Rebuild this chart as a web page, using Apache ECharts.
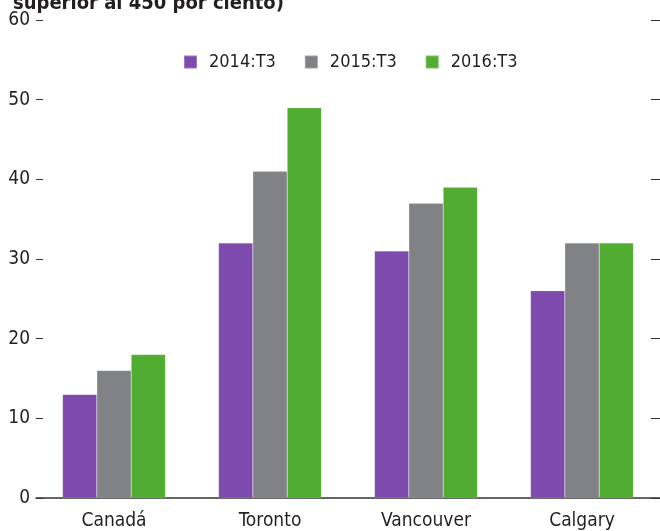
<!DOCTYPE html>
<html>
<head>
<meta charset="utf-8">
<script src="https://cdn.jsdelivr.net/npm/echarts@6/dist/echarts.min.js"></script>
<style>
  html, body { margin: 0; padding: 0; background: #fff; }
  #chart { width: 660px; height: 531px; }
</style>
</head>
<body>
<div id="chart"></div>
<script>
  // data
  const categories = ['Canadá', 'Toronto', 'Vancouver', 'Calgary'];
  const seriesNames = ['2014:T3', '2015:T3', '2016:T3'];
  const values2014 = [13, 32, 31, 26];
  const values2015 = [16, 41, 37, 32];
  const values2016 = [18, 49, 39, 32];
  const colors = ['#7c4bad', '#818285', '#50ad32'];

  const font = "'Liberation Sans Narrow', 'DejaVu Sans Condensed', sans-serif";
  const ink = '#231f20';

  const chart = echarts.init(document.getElementById('chart'));

  const series = [values2014, values2015, values2016].map((data, i) => ({
    name: seriesNames[i],
    type: 'bar',
    data: data,
    barGap: '0%',
    barCategoryGap: '34%',
    itemStyle: {
      color: colors[i],
      borderColor: 'rgba(255,255,255,0.25)',
      borderWidth: 0.5
    },
    animation: false
  }));

  chart.setOption({
    title: {
      text: 'superior al 450 por ciento)',
      left: 8,
      top: -11,
      textStyle: { fontFamily: font, fontSize: 20, fontWeight: 'bold', color: ink }
    },
    legend: {
      data: seriesNames,
      left: 183,
      top: 53,
      padding: 0,
      itemWidth: 13,
      itemHeight: 13,
      itemGap: 28,
      icon: 'rect',
      textStyle: { fontFamily: font, fontSize: 18, color: ink, padding: [0, 0, 0, 7] }
    },
    grid: {
      left: 36,
      right: -4,
      top: 20,
      bottom: 32
    },
    xAxis: {
      type: 'category',
      data: categories,
      axisLine: { lineStyle: { color: '#333', width: 1.5 } },
      axisTick: { inside: true, length: 8, lineStyle: { color: '#333', width: 1 } },
      axisLabel: { fontFamily: font, fontSize: 19, color: ink, margin: 14 }
    },
    yAxis: [{
      type: 'value',
      min: 0,
      max: 60,
      interval: 10,
      position: 'left',
      axisLine: { show: false },
      axisTick: { show: true, inside: true, length: 7, lineStyle: { color: '#333', width: 1 } },
      axisLabel: { fontFamily: font, fontSize: 19, color: ink, margin: 6 },
      splitLine: { show: false }
    }, {
      type: 'value',
      min: 0,
      max: 60,
      interval: 10,
      position: 'right',
      axisLine: { show: false },
      axisTick: { show: true, inside: true, length: 9, lineStyle: { color: '#333', width: 1 } },
      axisLabel: { show: false },
      splitLine: { show: false }
    }],
    series: series
  });
</script>
</body>
</html>
